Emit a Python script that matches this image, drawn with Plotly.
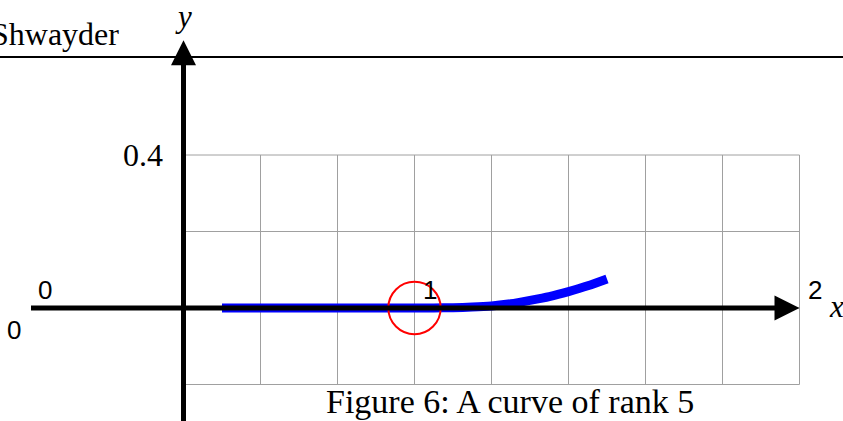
import plotly.graph_objects as go

# ---- data ----
curve_x = [0.5, 0.6, 0.7, 0.8, 0.9, 1.0, 1.05, 1.1, 1.15, 1.2, 1.25, 1.3, 1.35, 1.4, 1.45, 1.5]
curve_y = [0.0, 0.0, 0.0, 0.0, 0.0, 0.0, 0.0001, 0.0008, 0.0025, 0.0055, 0.011, 0.02, 0.03, 0.043, 0.058, 0.076]
grid_x = [0.4, 0.6, 0.8, 1.0, 1.2, 1.4, 1.6, 1.8, 2.0]
grid_y = [-0.2, 0.0, 0.2, 0.4]
point_x = [0, 1, 2]
point_labels = ["0", "1", "2"]
ytick_value = 0.4
ytick_label = "0.4"
circle_center = (1.0, 0.0)
circle_radius = 0.068
header_text = "Shwayder"
caption_text = "Figure 6: A curve of rank 5"

W, H = 843, 421
PX0, SX = 29.5, 385.0      # pixel of x=0, px per unit
PY0, SY = 308.0, 382.5     # pixel of y=0, px per unit
xr = [(0 - PX0) / SX, (W - PX0) / SX]
yr = [(PY0 - H) / SY, (PY0 - 0) / SY]

SERIF = "Liberation Serif"
SANS = "Liberation Sans"

fig = go.Figure()

shapes = []
# grid
for gx in grid_x:
    shapes.append(dict(type="line", xref="x", yref="y", x0=gx, x1=gx, y0=grid_y[0], y1=grid_y[-1],
                       line=dict(color="#a0a0a0", width=1), layer="below"))
for gy in grid_y:
    shapes.append(dict(type="line", xref="x", yref="y", x0=grid_x[0], x1=grid_x[-1], y0=gy, y1=gy,
                       line=dict(color="#a0a0a0", width=1), layer="below"))
# header rule
shapes.append(dict(type="line", xref="paper", yref="paper", x0=0, x1=1, y0=1 - 57 / H, y1=1 - 57 / H,
                   line=dict(color="black", width=2)))
# red circle
cx, cy = circle_center
shapes.append(dict(type="circle", xref="x", yref="y",
                   x0=cx - circle_radius, x1=cx + circle_radius,
                   y0=cy - circle_radius * SX / SY, y1=cy + circle_radius * SX / SY,
                   line=dict(color="red", width=2)))

# the curve
fig.add_trace(go.Scatter(x=curve_x, y=curve_y, mode="lines",
                         line=dict(color="#0000ff", width=9, shape="spline", smoothing=0.6),
                         hoverinfo="skip"))

annotations = []
# axes arrows
annotations.append(dict(x=point_x[-1], y=0, ax=point_x[0], ay=0, xref="x", yref="y", axref="x", ayref="y",
                        text="", showarrow=True, arrowhead=2, arrowsize=1, arrowwidth=5, arrowcolor="black"))
annotations.append(dict(x=grid_x[0], y=0.7, ax=grid_x[0], ay=-0.4, xref="x", yref="y", axref="x", ayref="y",
                        text="", showarrow=True, arrowhead=2, arrowsize=1, arrowwidth=5, arrowcolor="black"))
# axis names
annotations.append(dict(x=(836 - PX0) / SX, y=(PY0 - 306) / SY, xref="x", yref="y", text="<i>x</i>",
                        showarrow=False, font=dict(family=SERIF, size=31, color="black")))
annotations.append(dict(x=grid_x[0], y=(PY0 - 16) / SY, xref="x", yref="y", text="<i>y</i>",
                        showarrow=False, font=dict(family=SERIF, size=31, color="black")))
# y tick label
annotations.append(dict(x=(165 - PX0) / SX, y=ytick_value, xref="x", yref="y", text=ytick_label,
                        xanchor="right", showarrow=False, font=dict(family=SERIF, size=32, color="black")))
# point labels
for px_, lab in zip(point_x, point_labels):
    annotations.append(dict(x=px_, y=0, xref="x", yref="y", text=lab, showarrow=False,
                            xanchor="left", yanchor="bottom", xshift=6, yshift=1,
                            font=dict(family=SANS, size=26, color="black")))
annotations.append(dict(x=point_x[0], y=0, xref="x", yref="y", text=point_labels[0], showarrow=False,
                        xanchor="right", yanchor="top", xshift=-7, yshift=-5,
                        font=dict(family=SANS, size=26, color="black")))
# header text
annotations.append(dict(x=121 / W, y=1 - 34 / H, xref="paper", yref="paper", text=header_text,
                        xanchor="right", yanchor="middle", showarrow=False,
                        font=dict(family=SERIF, size=32, color="black")))
# caption
annotations.append(dict(x=510 / W, y=1 - 401 / H, xref="paper", yref="paper", text=caption_text,
                        xanchor="center", yanchor="middle", showarrow=False,
                        font=dict(family=SERIF, size=34, color="black")))

fig.update_layout(
    width=W, height=H, margin=dict(l=0, r=0, t=0, b=0),
    paper_bgcolor="white", plot_bgcolor="white", showlegend=False,
    xaxis=dict(range=xr, visible=False, fixedrange=True),
    yaxis=dict(range=yr, visible=False, fixedrange=True),
    shapes=shapes, annotations=annotations,
)

fig.write_html("out.html", config={"displayModeBar": False},
               post_script="document.body.style.margin='0';document.body.style.overflow='hidden';")
